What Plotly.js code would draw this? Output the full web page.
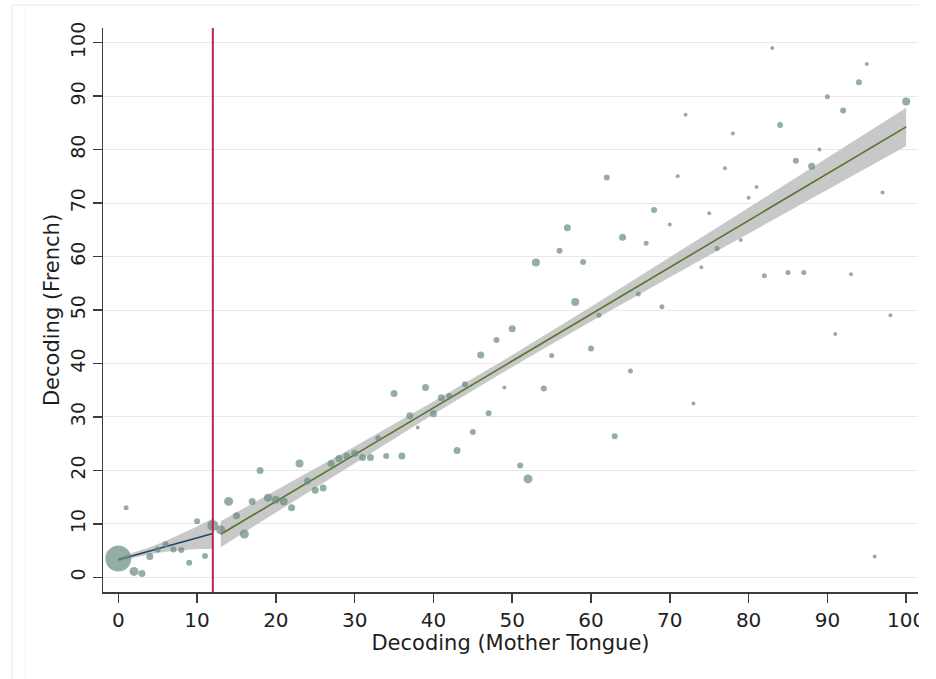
<!DOCTYPE html>
<html>
<head>
<meta charset="utf-8">
<script src="https://cdn.plot.ly/plotly-3.0.1.min.js"></script>
<style>html,body{margin:0;padding:0;background:#fff;}#chart{width:936px;height:679px;}</style>
</head>
<body>
<div id="chart"></div>
<script>
// Scatter data: Decoding (Mother Tongue) vs Decoding (French)
const motherTongue = [0,1,2,3,4,5,6,7,8,9,10,11,12,13,14,15,16,17,18,19,20,21,22,23,24,25,26,27,28,29,30,31,32,33,34,35,36,37,38,39,40,41,42,43,44,45,46,47,48,49,50,51,52,53,54,55,56,57,58,59,60,61,62,63,64,65,66,67,68,69,70,71,72,73,74,75,76,77,78,79,80,81,82,83,84,85,86,87,88,89,90,91,92,93,94,95,96,97,98,100];
const french = [3.5,13.0,1.1,0.7,3.9,5.2,6.2,5.2,5.1,2.7,10.5,4.0,9.7,8.9,14.2,11.5,8.1,14.2,20.0,14.9,14.5,14.2,13.0,21.3,18.0,16.3,16.7,21.3,22.2,22.7,23.2,22.4,22.4,26.0,22.7,34.4,22.7,30.2,28.0,35.5,30.6,33.6,33.9,23.7,36.1,27.2,41.6,30.7,44.4,35.5,46.5,20.9,18.4,58.9,35.3,41.5,61.1,65.4,51.5,59.0,42.8,49.0,74.8,26.4,63.6,38.6,53.0,62.5,68.7,50.6,66.0,75.0,86.5,32.5,58.0,68.1,61.5,76.5,83.0,63.1,71.0,73.0,56.4,99.0,84.6,57.0,77.9,57.0,76.9,80.0,89.9,45.5,87.3,56.7,92.6,96.0,3.9,72.0,49.0,89.0];
const weight = [26,5,9,7,7,6,6,6,6,6,6,6,11,9,9,7,9,7,7,8,8,8,7,8,7,7,7,7,7,7,7,7,7,6,6,7,7,7,4,7,7,7,6,7,6,6,7,6,6,4,7,6,9,8,6,5,6,7,8,6,6,5,6,6,7,5,5,5,6,5,4,4,4,4,4,4,5,4,4,4,4,4,5,4,6,5,6,5,7,4,5,4,6,4,6,4,4,4,4,8];

// Fit below cutoff (x <= 12) with 95% CI
const lowX = [0,2,4,6,8,10,12];
const lowFit = [3.3,4.1,4.9,5.8,6.6,7.4,8.2];
const lowHi = [3.7,4.6,5.6,6.8,8.1,9.5,11.0];
const lowLo = [3.0,3.6,4.3,4.8,5.1,5.3,5.3];

// Fit above cutoff (x >= 13) with 95% CI
const highX = [13,20,30,40,50,60,70,80,90,100];
const highFit = [8.05,14.18,22.94,31.70,40.46,49.22,57.98,66.74,75.50,84.26];
const highHi = [10.50,16.24,24.49,32.88,41.57,50.60,59.82,69.13,78.47,87.85];
const highLo = [5.60,12.12,21.39,30.52,39.35,47.84,56.14,64.35,72.53,80.67];

const cutoff = 12;
const xTicks = [0,10,20,30,40,50,60,70,80,90,100];
const yTicks = [0,10,20,30,40,50,60,70,80,90,100];

function band(xs, hi, lo){
  return {x: xs.concat(xs.slice().reverse()), y: hi.concat(lo.slice().reverse())};
}
const bLow = band(lowX, lowHi, lowLo);
const bHigh = band(highX, highHi, highLo);

const bandStyle = {type:'scatter', mode:'lines', fill:'toself', fillcolor:'rgba(190,190,190,0.85)', line:{width:0}, hoverinfo:'skip', showlegend:false};

const traces = [
  Object.assign({}, bandStyle, {x:bLow.x, y:bLow.y}),
  Object.assign({}, bandStyle, {x:bHigh.x, y:bHigh.y}),
  {type:'scatter', mode:'lines', x:lowX, y:lowFit, line:{color:'#1a476f', width:1.6}, showlegend:false},
  {type:'scatter', mode:'lines', x:highX, y:highFit, line:{color:'#55752f', width:1.6}, showlegend:false},
  {type:'scatter', mode:'markers', x:motherTongue, y:french, marker:{size:weight, color:'#688c7e', line:{width:0}}, showlegend:false}
];

const font = 'DejaVu Sans, Liberation Sans, Arial, sans-serif';
const txt = '#1e1e1e';
const layout = {
  width:936, height:679,
  margin:{l:103, r:18, t:28, b:87},
  paper_bgcolor:'#ffffff', plot_bgcolor:'#ffffff',
  font:{family:font, color:txt, size:20},
  showlegend:false,
  xaxis:{
    range:[-1.94, 101.5], tickvals:xTicks, ticktext:xTicks.map(String),
    showgrid:false, zeroline:false, showline:true, linecolor:'#3c3c3c', linewidth:1.5,
    ticks:'outside', ticklen:9, tickwidth:1.5, tickcolor:'#3c3c3c',
    tickfont:{family:font, size:20, color:txt},
    title:{text:'Decoding (Mother Tongue)', font:{family:font, size:21, color:txt}, standoff:1},
    automargin:false
  },
  yaxis:{
    range:[-2.75, 102.75], tickvals:yTicks, ticktext:yTicks.map(String), tickangle:-90,
    showgrid:true, gridcolor:'#e9e9e9', gridwidth:1, zeroline:false,
    showline:true, linecolor:'#3c3c3c', linewidth:1.5,
    ticks:'outside', ticklen:9, tickwidth:1.5, tickcolor:'#3c3c3c',
    tickfont:{family:font, size:19, color:txt},
    title:{text:'Decoding (French)', font:{family:font, size:21, color:txt}, standoff:1},
    automargin:false
  },
  shapes:[
    {type:'line', xref:'x', yref:'paper', x0:cutoff, x1:cutoff, y0:0, y1:1, line:{color:'#b8224c', width:2}},
    {type:'line', xref:'paper', yref:'paper', x0:-0.1117, x1:-0.1117, y0:-0.2, y1:1.0408, line:{color:'#e3eaee', width:1}, layer:'below'},
    {type:'line', xref:'paper', yref:'paper', x0:-0.0957, x1:-0.0957, y0:-0.2, y1:1.0408, line:{color:'#f0f3f5', width:1}, layer:'below'},
    {type:'line', xref:'paper', yref:'paper', x0:-0.1117, x1:1.05, y0:1.0408, y1:1.0408, line:{color:'#e3eaee', width:1}, layer:'below'},
    {type:'rect', xref:'paper', yref:'paper', x0:1.0012, x1:1.05, y0:-0.2, y1:1.1, fillcolor:'#ffffff', line:{width:0}, layer:'above'}
  ]
};

Plotly.newPlot('chart', traces, layout, {displayModeBar:false, staticPlot:true});
</script>
</body>
</html>
